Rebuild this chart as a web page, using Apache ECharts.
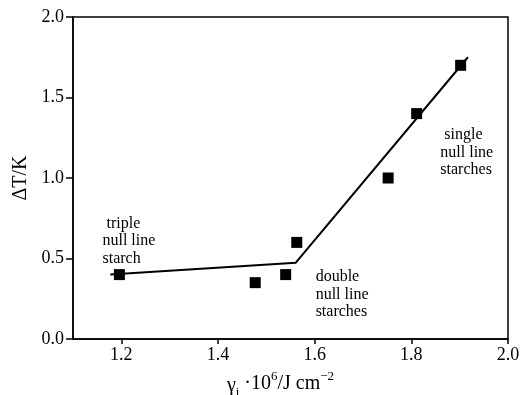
<!DOCTYPE html>
<html>
<head>
<meta charset="utf-8">
<script src="https://cdn.jsdelivr.net/npm/echarts@6/dist/echarts.min.js"></script>
<style>html,body{margin:0;padding:0;background:#fff}#c{width:524px;height:395px}</style>
</head>
<body>
<div id="c"></div>
<script>
// Data
const pointsX = [1.196, 1.477, 1.540, 1.563, 1.752, 1.811, 1.902];
const pointsY = [0.40, 0.35, 0.40, 0.60, 1.00, 1.40, 1.70];
const fitX = [1.177, 1.561, 1.917];
const fitY = [0.40, 0.474, 1.75];
const xTicks = [1.2, 1.4, 1.6, 1.8, 2.0];
const yTicks = [0.0, 0.5, 1.0, 1.5, 2.0];
const annoText = [' triple\nnull line\nstarch', 'double\nnull line\nstarches', ' single\nnull line\nstarches'];
const annoX = [1.161, 1.602, 1.860];
const annoY = [0.770, 0.440, 1.322];

const FONT = '"Liberation Serif", "DejaVu Serif", serif';
const chart = echarts.init(document.getElementById('c'), null, {renderer: 'canvas'});
const option = {
  animation: false,
  backgroundColor: '#fff',
  grid: {left: 73, right: 16, top: 17, bottom: 56, containLabel: false, outerBoundsMode: 'none', show: true, borderColor: '#000', borderWidth: 1.5, backgroundColor: 'transparent'},
  xAxis: {
    type: 'value', min: 1.1, max: 2.0,
    name: '{g|γ}{sub|i} ·10{sup|6}/J cm{sup|−2}',
    nameLocation: 'middle', nameGap: 33,
    nameTextStyle: {
      fontFamily: FONT, fontSize: 20, color: '#000', padding: [0, 20, 0, 0],
      rich: {
        g: {fontFamily: FONT, fontSize: 20, color: '#000', lineHeight: 24, verticalAlign: 'bottom'},
        sub: {fontFamily: FONT, fontSize: 13, color: '#000', lineHeight: 24, verticalAlign: 'bottom', padding: [0, 0, -3, 0]},
        sup: {fontFamily: FONT, fontSize: 13, color: '#000', lineHeight: 24, verticalAlign: 'top', padding: [-2, 0, 0, 0]}
      }
    },
    axisLine: {show: true, onZero: false, lineStyle: {color: '#000', width: 1.5}},
    axisTick: {show: true, inside: false, length: 5, customValues: xTicks, lineStyle: {color: '#000', width: 1.5}},
    axisLabel: {customValues: xTicks, margin: 7, color: '#000', fontFamily: FONT, fontSize: 18, formatter: v => v.toFixed(1)},
    splitLine: {show: false}
  },
  yAxis: {
    type: 'value', min: 0, max: 2.0, interval: 0.5,
    name: 'ΔT/K', nameLocation: 'middle', nameGap: 40, nameRotate: 90,
    nameTextStyle: {fontFamily: FONT, fontSize: 20, color: '#000'},
    axisLine: {show: true, onZero: false, lineStyle: {color: '#000', width: 1.5}},
    axisTick: {show: true, inside: false, length: 7, lineStyle: {color: '#000', width: 1.5}},
    axisLabel: {margin: 9, color: '#000', fontFamily: FONT, fontSize: 18, formatter: v => v.toFixed(1)},
    splitLine: {show: false}
  },
  series: [
    {
      type: 'line', data: fitX.map((x, i) => [x, fitY[i]]), showSymbol: false, symbol: 'none',
      lineStyle: {color: '#000', width: 2}, z: 2
    },
    {
      type: 'scatter', data: pointsX.map((x, i) => [x, pointsY[i]]), symbol: 'rect', symbolSize: 11,
      itemStyle: {color: '#000', opacity: 1}, z: 3
    }
  ]
};
chart.setOption(option);
const graphics = annoText.map((t, i) => {
  const p = chart.convertToPixel({gridIndex: 0}, [annoX[i], annoY[i]]);
  return {
    type: 'text', x: p[0], y: p[1],
    style: {text: t, fill: '#000', font: '16px ' + FONT, lineHeight: 17.5, align: 'left', verticalAlign: 'top'}
  };
});
chart.setOption({graphic: graphics});
</script>
</body>
</html>
